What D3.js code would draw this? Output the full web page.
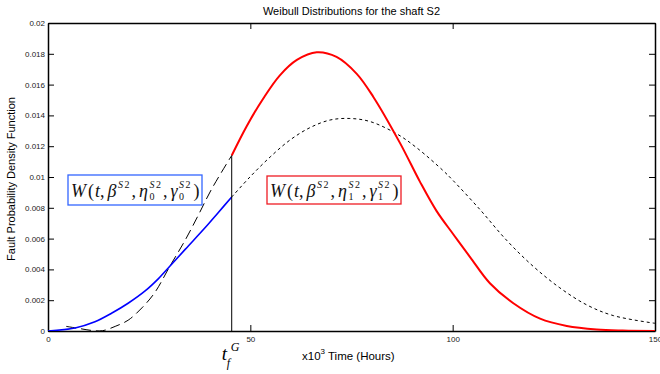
<!DOCTYPE html>
<html>
<head>
<meta charset="utf-8">
<script src="https://cdnjs.cloudflare.com/ajax/libs/d3/7.8.5/d3.min.js"></script>
<style>
  body { margin: 0; background: #fff; }
  svg { display: block; font-family: "Liberation Sans", Arial, sans-serif; }
</style>
</head>
<body>
<svg id="chart" width="660" height="374"></svg>
<script>
// values (time in x10^3 hours)
var xTicks = [0, 50, 100, 150];
var yTicks = [0, 0.002, 0.004, 0.006, 0.008, 0.01, 0.012, 0.014, 0.016, 0.018, 0.02];
var yTickLabels = ["0", "0.002", "0.004", "0.006", "0.008", "0.01", "0.012", "0.014", "0.016", "0.018", "0.02"];

// switching time t_f^G
var tfG = 45.4;

// W(t, beta, eta1, gamma1) : dashed before tfG, red after
var w1Time = [4.5, 8, 11, 13.5, 16.6, 19.8, 23.2, 26.4, 30.1, 33.9, 37.1, 40.4, 45.4,
  49.1, 53.2, 57.3, 61.5, 66.4, 71.3, 76.3, 80.4, 87, 91.9, 96, 100.1, 104.3,
  109.2, 115, 121.6, 128.2, 135.6, 142, 150];
var w1Density = [0.0003, 0.00015, 0.00003, 0.00002, 0.0003, 0.0007, 0.0015, 0.0025, 0.0042, 0.0059, 0.0075, 0.0092, 0.0114,
  0.0133, 0.0151, 0.0166, 0.0176, 0.0181, 0.0178, 0.0167, 0.0152, 0.0122, 0.0097, 0.0078, 0.0063, 0.0048,
  0.0031, 0.0018, 0.0008, 0.00033, 0.0001, 0.00003, 0];

// W(t, beta, eta0, gamma0) : blue before tfG, dotted after
var w0Time = [0, 6.7, 11.6, 15.7, 19.8, 24, 27.3, 30.1, 33.9, 38.8, 42.1, 45.4,
  49.9, 54.9, 59.8, 64.7, 69.7, 74.6, 79.6, 86.2, 91.1, 97.7, 100, 106.7,
  113.3, 119.9, 126.5, 133.1, 139.7, 150];
var w0Density = [0, 0.0002, 0.0006, 0.00115, 0.0018, 0.0026, 0.0034, 0.0042, 0.0053, 0.0067, 0.0077, 0.0087,
  0.0100, 0.0113, 0.0124, 0.0132, 0.0137, 0.0138, 0.0136, 0.0128, 0.0119, 0.0104, 0.0098, 0.0079,
  0.0059, 0.0042, 0.0028, 0.0017, 0.0010, 0.0005];

var svg = d3.select("#chart");
var plotLeft = 48, plotRight = 655, plotTop = 23, plotBottom = 331;

var x = d3.scaleLinear().domain([0, 150]).range([plotLeft, plotRight]);
var y = d3.scaleLinear().domain([0, 0.02]).range([plotBottom, plotTop]);

svg.append("defs").append("clipPath").attr("id", "plotClip")
  .append("rect").attr("x", plotLeft).attr("y", plotTop)
  .attr("width", plotRight - plotLeft).attr("height", plotBottom - plotTop);

// title
svg.append("text")
  .attr("x", (plotLeft + plotRight) / 2).attr("y", 15)
  .attr("text-anchor", "middle").attr("font-size", 11)
  .text("Weibull Distributions for the shaft S2");

// axes (MATLAB style box, ticks inside)
function styleAxis(g) {
  g.selectAll(".domain").attr("stroke", "#000").attr("stroke-width", 1.5);
  g.selectAll(".tick line").attr("stroke", "#000").attr("stroke-width", 1);
  g.selectAll(".tick text").attr("fill", "#222").attr("font-size", 8)
    .attr("font-family", "'Liberation Sans', Arial, sans-serif");
}

svg.append("g").attr("transform", "translate(0," + plotBottom + ")")
  .call(d3.axisBottom(x).tickValues(xTicks).tickFormat(d3.format("d"))
    .tickSizeInner(-6).tickSizeOuter(0).tickPadding(5))
  .call(styleAxis);
svg.append("g").attr("transform", "translate(0," + plotTop + ")")
  .call(d3.axisTop(x).tickValues(xTicks).tickFormat("")
    .tickSizeInner(-6).tickSizeOuter(0))
  .call(styleAxis);
svg.append("g").attr("transform", "translate(" + plotLeft + ",0)")
  .call(d3.axisLeft(y).tickValues(yTicks).tickFormat(function (d, i) { return yTickLabels[i]; })
    .tickSizeInner(-6).tickSizeOuter(0).tickPadding(3))
  .call(styleAxis);
svg.append("g").attr("transform", "translate(" + plotRight + ",0)")
  .call(d3.axisRight(y).tickValues(yTicks).tickFormat("")
    .tickSizeInner(-6).tickSizeOuter(0))
  .call(styleAxis);

// axis labels
svg.append("text")
  .attr("transform", "translate(15," + ((plotTop + plotBottom) / 2 + 2) + ") rotate(-90)")
  .attr("text-anchor", "middle").attr("font-size", 11)
  .text("Fault Probability Density Function");

var xl = svg.append("text").attr("x", 302).attr("y", 360).attr("font-size", 11.5);
xl.append("tspan").text("x10");
xl.append("tspan").attr("font-size", 8).attr("dy", -6).text("3");
xl.append("tspan").attr("dy", 6).text(" Time (Hours)");

// curves
function pts(ts, vs) {
  return ts.map(function (t, i) { return [t, vs[i]]; });
}
var w1 = pts(w1Time, w1Density);
var w0 = pts(w0Time, w0Density);

var line = d3.line()
  .x(function (d) { return x(d[0]); })
  .y(function (d) { return y(d[1]); })
  .curve(d3.curveCatmullRom.alpha(0.5));

var plot = svg.append("g").attr("clip-path", "url(#plotClip)");

plot.append("path")
  .datum(w1.filter(function (d) { return d[0] <= tfG; }))
  .attr("d", line).attr("fill", "none")
  .attr("stroke", "#000").attr("stroke-width", 1).attr("stroke-dasharray", "10,5");
plot.append("path")
  .datum(w0.filter(function (d) { return d[0] >= tfG; }))
  .attr("d", line).attr("fill", "none")
  .attr("stroke", "#000").attr("stroke-width", 1).attr("stroke-dasharray", "3,3");
plot.append("path")
  .datum(w0.filter(function (d) { return d[0] <= tfG; }))
  .attr("d", line).attr("fill", "none")
  .attr("stroke", "#0000ff").attr("stroke-width", 1.6);
plot.append("path")
  .datum(w1.filter(function (d) { return d[0] >= tfG; }))
  .attr("d", line).attr("fill", "none")
  .attr("stroke", "#ff0000").attr("stroke-width", 2);

// vertical marker at t_f^G
var tfTop = w1Density[w1Time.indexOf(tfG)];
svg.append("line")
  .attr("x1", x(tfG)).attr("x2", x(tfG))
  .attr("y1", y(0)).attr("y2", y(tfTop))
  .attr("stroke", "#000").attr("stroke-width", 1);

// t_f^G label
var serif = "'Liberation Serif', 'Times New Roman', serif";
svg.append("text").attr("x", x(tfG) - 10).attr("y", 360)
  .attr("font-family", serif).attr("font-style", "italic").attr("font-size", 19).text("t");
svg.append("text").attr("x", x(tfG) - 1).attr("y", 351)
  .attr("font-family", serif).attr("font-style", "italic").attr("font-size", 12).text("G");
svg.append("text").attr("x", x(tfG) - 5).attr("y", 367)
  .attr("font-family", serif).attr("font-style", "italic").attr("font-size", 12).text("f");

// formula boxes
function formula(g, x0, base, idx) {
  var cx = x0;
  function put(txt, size, italic, dy) {
    var t = g.append("text").attr("x", cx).attr("y", base + dy)
      .attr("font-family", serif).attr("font-size", size)
      .attr("font-style", italic ? "italic" : "normal")
      .attr("fill", "#111").text(txt);
    var w = t.node().getComputedTextLength();
    cx += w;
    return w;
  }
  function supSub(sub) {
    var start = cx + 1.5;
    cx = start;
    var w1 = put("S", 10, true, -9);
    cx += 1.5;
    w1 += 1.5 + put("2", 10, false, -9);
    var w2 = 0;
    if (sub !== null) {
      cx = start;
      w2 = put(sub, 10, false, 3);
    }
    cx = start + Math.max(w1, w2);
  }
  put("W", 18, true, 0); cx += 2;
  put("(", 18, false, 0); cx += 1;
  put("t", 18, true, 0);
  put(",", 18, false, 0); cx += 3;
  put("\u03b2", 18, true, 0);
  supSub(null); cx += 2;
  put(",", 18, false, 0); cx += 3;
  put("\u03b7", 18, true, 0);
  supSub(idx); cx += 2;
  put(",", 18, false, 0); cx += 3;
  put("\u03b3", 18, true, 0);
  supSub(idx); cx += 3;
  put(")", 18, false, 0);
  return cx - x0;
}

var box0 = svg.append("g");
box0.append("rect").attr("x", 68).attr("y", 175).attr("width", 134).attr("height", 30)
  .attr("fill", "#fff").attr("stroke", "#3366ff").attr("stroke-width", 1.3);
formula(box0, 71, 197, "0");

var box1 = svg.append("g");
box1.append("rect").attr("x", 267).attr("y", 176).attr("width", 134).attr("height", 28)
  .attr("fill", "#fff").attr("stroke", "#ee1c24").attr("stroke-width", 1.3);
formula(box1, 270, 197, "1");
</script>
</body>
</html>
